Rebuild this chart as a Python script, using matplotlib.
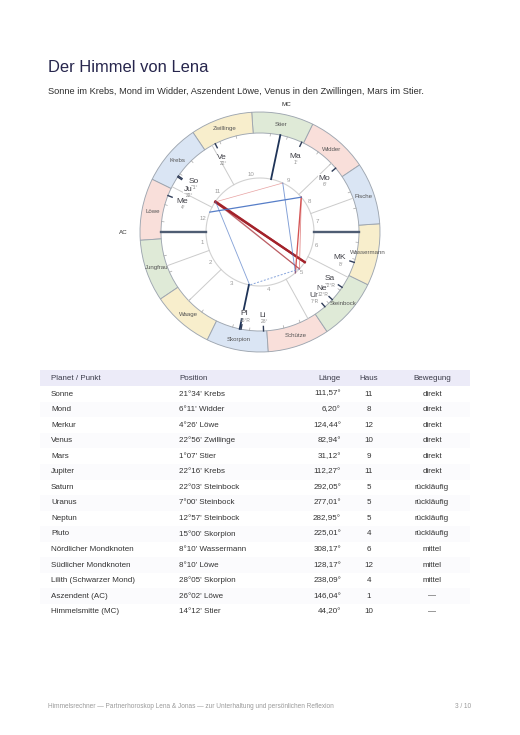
import numpy as np
import matplotlib
matplotlib.use("Agg")
import matplotlib.pyplot as plt

plt.rcParams['font.family'] = ['Liberation Sans', 'DejaVu Sans']

# --- data -----------------------------------------------------------------
signs = ["Widder", "Stier", "Zwillinge", "Krebs", "Löwe", "Jungfrau",
         "Waage", "Skorpion", "Schütze", "Steinbock", "Wassermann", "Fische"]
# fire, earth, air, water
element_colors = ["#f9dfda", "#dfead7", "#f8eecc", "#dae5f4"]

bodies = ["Sonne", "Mond", "Merkur", "Venus", "Mars", "Jupiter", "Saturn",
          "Uranus", "Neptun", "Pluto", "Nördlicher Mondknoten",
          "Südlicher Mondknoten", "Lilith (Schwarzer Mond)",
          "Aszendent (AC)", "Himmelsmitte (MC)"]
positions = ["21°34' Krebs", "6°11' Widder", "4°26' Löwe", "22°56' Zwillinge",
             "1°07' Stier", "22°16' Krebs", "22°03' Steinbock", "7°00' Steinbock",
             "12°57' Steinbock", "15°00' Skorpion", "8°10' Wassermann",
             "8°10' Löwe", "28°05' Skorpion", "26°02' Löwe", "14°12' Stier"]
longitudes = [111.57, 6.20, 124.44, 82.94, 31.12, 112.27, 292.05, 277.01,
              282.95, 225.01, 308.17, 128.17, 238.09, 146.04, 44.20]
houses = [11, 8, 12, 10, 9, 11, 5, 5, 5, 4, 6, 12, 4, 1, 10]
motions = ["direkt", "direkt", "direkt", "direkt", "direkt", "direkt",
           "rückläufig", "rückläufig", "rückläufig", "rückläufig",
           "mittel", "mittel", "mittel", "—", "—"]
# short names drawn on the wheel (None = not drawn)
abbrevs = ["So", "Mo", "Me", "Ve", "Ma", "Ju", "Sa", "Ur", "Ne", "Pl",
           "MK", None, "Li", None, None]

# house cusps 1..12
cusps = [146.04, 166.0, 190.0, 224.20, 265.0, 298.8,
         326.04, 346.0, 10.0, 44.20, 85.0, 118.8]

aspects = [("Jupiter", "Saturn", "Opposition"),
           ("Sonne", "Saturn", "Opposition"),
           ("Sonne", "Neptun", "Opposition"),
           ("Jupiter", "Neptun", "Opposition"),
           ("Jupiter", "Mars", "Quadrat"),
           ("Mond", "Uranus", "Quadrat"),
           ("Mond", "Neptun", "Quadrat"),
           ("Merkur", "Mond", "Trigon"),
           ("Mars", "Uranus", "Trigon"),
           ("Sonne", "Pluto", "Trigon"),
           ("Neptun", "Pluto", "Sextil")]
aspect_deg = {"Opposition": 180, "Quadrat": 90, "Trigon": 120, "Sextil": 60}
aspect_style = {"Opposition": ("#a3222a", 1.6, "-"),
                "Quadrat": ("#d24b4b", 1.0, "-"),
                "Trigon": ("#4470c2", 1.0, "-"),
                "Sextil": ("#7a9bd8", 0.8, (0, (2, 1.6)))}

title = "Der Himmel von Lena"
subtitle = ("Sonne im Krebs, Mond im Widder, Aszendent Löwe, "
            "Venus in den Zwillingen, Mars im Stier.")
footer = ("Himmelsrechner — Partnerhoroskop Lena & Jonas — "
          "zur Unterhaltung und persönlichen Reflexion")
page = "3 / 10"
columns = ["Planet / Punkt", "Position", "Länge", "Haus", "Bewegung"]

lon = dict(zip(bodies, longitudes))
asc = lon["Aszendent (AC)"]
mc = lon["Himmelsmitte (MC)"]


def th(l):
    # AC on the left, longitude running counter-clockwise
    return np.radians((l - asc + 180.0) % 360.0)


def spread(angles, min_sep=7.0):
    a = np.array(angles, dtype=float)
    order = np.argsort(a)
    s = a[order].copy()
    for _ in range(60):
        for i in range(len(s) - 1):
            if s[i + 1] - s[i] < min_sep:
                mid = (s[i] + s[i + 1]) / 2
                s[i], s[i + 1] = mid - min_sep / 2, mid + min_sep / 2
    out = np.empty_like(s)
    out[order] = s
    return out


fig = plt.figure(figsize=(5.2, 7.35), dpi=100)

# page axes in pixel units
bg = fig.add_axes([0, 0, 1, 1])
bg.set_xlim(0, 520)
bg.set_ylim(735, 0)
bg.set_axis_off()

bg.text(48, 67, title, fontsize=11.9, color="#27264d", va="center")
bg.text(48, 91, subtitle, fontsize=6.7, color="#2e2e2e", va="center")

# table
row0, row_h = 394.0, 15.55
col_x = [51, 179, 341, 369, 432]
col_ha = ["left", "left", "right", "center", "center"]
bg.barh([378], [430], left=40, height=15.5, color="#ecebf8", zorder=0)
ys = [row0 + i * row_h for i in range(len(bodies))]
bg.barh(ys[1::2], [430] * len(ys[1::2]), left=40, height=row_h,
        color="#fbfbfd", zorder=0)
for x, ha, c in zip(col_x, col_ha, columns):
    bg.text(x, 378, c, fontsize=5.8, color="#3c3c4a", ha=ha, va="center")
for y, b, p, l, h, m in zip(ys, bodies, positions, longitudes, houses, motions):
    vals = [b, p, f"{l:.2f}°".replace(".", ","), str(h), m]
    for x, ha, v in zip(col_x, col_ha, vals):
        bg.text(x, y, v, fontsize=5.8, color="#333333", ha=ha, va="center")

bg.text(48, 707, footer, fontsize=4.7, color="#9a9a9a", va="center")
bg.text(471, 707, page, fontsize=4.7, color="#9a9a9a", va="center", ha="right")

# --- wheel ----------------------------------------------------------------
R_MAX = 140.0
ax = fig.add_axes([120 / 520, 1 - 372 / 735, 280 / 520, 280 / 735],
                  projection="polar")
ax.set_ylim(0, R_MAX)
ax.set_axis_off()

r_asp, r_in, r_out = 54.0, 99.0, 120.0

sign_start = np.arange(12) * 30.0
ax.bar([th(s + 15) for s in sign_start], r_out - r_in, width=np.radians(30),
       bottom=r_in, color=[element_colors[i % 4] for i in range(12)],
       edgecolor="#9ea6b0", linewidth=0.65, zorder=1)
for s, name in zip(sign_start, signs):
    ax.text(th(s + 15), 109.5, name, fontsize=4.4, color="#555555",
            ha="center", va="center", zorder=3)

# minor ticks every 10 degrees
for d in np.arange(0, 360, 10):
    if d % 30:
        ax.plot([th(d)] * 2, [96.5, r_in], color="#a5a5a5", lw=0.5, zorder=2)

circ = np.linspace(0, 2 * np.pi, 400)
ax.plot(circ, np.full_like(circ, r_asp), color="#d2d2d2", lw=0.8, zorder=2)

# house cusps and numbers
for i, c in enumerate(cusps):
    nxt = cusps[(i + 1) % 12]
    mid = c + ((nxt - c) % 360) / 2
    if i in (0, 6):
        ax.plot([th(c)] * 2, [r_asp, r_in], color="#4f5d73", lw=1.7, zorder=3)
    elif i in (3, 9):
        ax.plot([th(c)] * 2, [r_asp, r_in], color="#1f3458", lw=1.3, zorder=3)
    else:
        ax.plot([th(c)] * 2, [r_asp, r_in], color="#cbcbcb", lw=0.7, zorder=2)
    ax.text(th(mid), 58.5, str(i + 1), fontsize=4.4, color="#9c9c9c",
            ha="center", va="center", zorder=3)

ax.text(th(asc), 137, "AC", fontsize=4.5, color="#333333",
        ha="center", va="center")
ax.text(th(mc), 130.5, "MC", fontsize=4.5, color="#333333",
        ha="center", va="center")

# aspects
for a, b, kind in aspects:
    diff = abs(lon[a] - lon[b]) % 360
    diff = min(diff, 360 - diff)
    orb = abs(diff - aspect_deg[kind])
    col, base, ls = aspect_style[kind]
    ax.plot([th(lon[a]), th(lon[b])], [r_asp, r_asp], color=col,
            lw=base * (1 - orb / 18), alpha=max(0.45, 1 - orb / 18),
            ls=ls, zorder=4)

# planets
shown = [i for i, ab in enumerate(abbrevs) if ab]
disp = spread([np.degrees(th(longitudes[i])) for i in shown])
for i, d in zip(shown, disp):
    t = th(longitudes[i])
    ax.plot([t, t], [94.5, r_in], color="#2f3c58", lw=1.0, zorder=5)
    deg = f"{int(longitudes[i] % 30)}°" + ("R" if motions[i] == "rückläufig" else "")
    ax.text(np.radians(d), 83.5, abbrevs[i], fontsize=6, color="#3f3f46",
            ha="center", va="center", zorder=6,
            bbox=dict(facecolor="white", edgecolor="none", pad=0.3))
    ax.annotate(deg, xy=(np.radians(d), 83.5), xytext=(0.8, -4.6),
                textcoords="offset points", fontsize=3.5, color="#8d8d8d",
                ha="center", va="center", zorder=6)

fig.savefig("out.png", dpi=100)
